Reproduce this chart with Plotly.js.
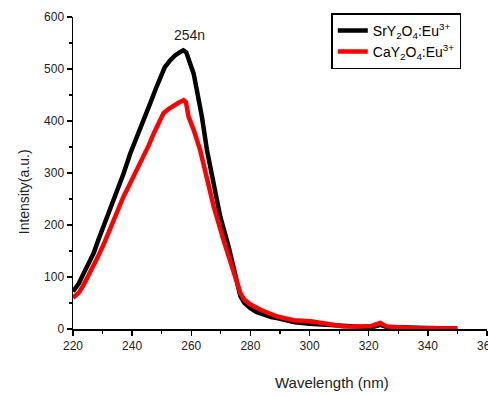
<!DOCTYPE html>
<html>
<head>
<meta charset="utf-8">
<script src="https://cdn.plot.ly/plotly-3.0.1.min.js"></script>
<style>html,body{margin:0;padding:0;background:#fff;}#chart{width:488px;height:395px;}</style>
</head>
<body>
<div id="chart"></div>
<script>
const srWavelength = [220, 222, 223.6, 225, 227, 228.5, 230.3, 232, 233.7, 235.5, 237.1, 239.4, 241, 242.8, 244.5, 246.1, 248, 249.5, 251, 252.9, 254.5, 256.3, 257.3, 258.3, 259.5, 260.8, 261.9, 263.6, 265.3, 267.6, 269.8, 272.6, 274.9, 276.6, 278, 280, 282, 284.5, 287, 289, 292, 295, 300, 306, 312, 318, 322, 324, 326, 330, 340, 350];
const srIntensity = [72, 88, 107, 122, 146, 170, 197, 222, 248, 273, 299, 338, 360, 383, 410, 434, 462, 485, 503, 517, 526, 533, 536, 532, 512, 491, 459, 408, 344, 280, 216, 159, 107, 63, 50, 40, 33, 27, 23, 21, 16, 13, 10, 8, 5, 4, 5, 8, 4, 3, 2, 1];
const caWavelength = [220, 222, 223.6, 225, 227, 228.5, 230.3, 232, 233.7, 235.5, 237.1, 238.8, 240.5, 242.2, 243.9, 245.6, 247.3, 249, 250.6, 252.3, 254, 255.7, 257.4, 258.2, 259.1, 260.8, 263, 265.3, 267.6, 270.9, 274.3, 276.6, 278, 280, 283.4, 286, 289, 294.6, 300.2, 305.8, 311.5, 317.1, 320.9, 323.9, 326, 334, 342, 349.8];
const caIntensity = [60, 70, 85, 100, 120, 140, 162, 186, 210, 233, 255, 274, 293, 312, 331, 353, 376, 396, 415, 423, 430, 435, 440, 436, 408, 383, 344, 287, 235, 171, 114, 69, 56, 47, 37, 30, 24, 17, 15, 10, 5, 5, 6, 11.5, 5, 2, 2, 1];
const seriesNames = ["SrY<sub>2</sub>O<sub>4</sub>:Eu<sup>3+</sup>", "CaY<sub>2</sub>O<sub>4</sub>:Eu<sup>3+</sup>"];
const xTicks = [220, 240, 260, 280, 300, 320, 340, 360];
const yTicks = [0, 100, 200, 300, 400, 500, 600];
const peakLabel = "254n";

const traces = [
  {x: srWavelength, y: srIntensity, name: seriesNames[0], mode: "lines", line: {color: "#000000", width: 4.5}},
  {x: caWavelength, y: caIntensity, name: seriesNames[1], mode: "lines", line: {color: "#ff0000", width: 4.5}}
];
const W = 488, H = 395;
const L = 72.7, R = 1.3, T = 16.7, B = 65.7;
const layout = {
  width: W, height: H,
  margin: {l: L, r: R, t: T, b: B, pad: 0},
  paper_bgcolor: "#ffffff", plot_bgcolor: "#ffffff",
  font: {family: "Liberation Sans, Arial, sans-serif", color: "#222", size: 12},
  showlegend: true,
  legend: {
    x: (331 - L) / (W - L - R), y: (H - B - 13) / (H - T - B), xanchor: "left", yanchor: "top",
    bordercolor: "#000", borderwidth: 1.5, bgcolor: "#fff",
    font: {size: 14, color: "#000"}, itemwidth: 30, tracegroupgap: 0
  },
  xaxis: {
    range: [220, 360], tickvals: xTicks, ticktext: xTicks.map(String),
    showgrid: false, zeroline: false, showline: true, linecolor: "#000", linewidth: 1.5,
    ticks: "outside", ticklen: 5, tickwidth: 1.5, tickcolor: "#000",
    tickfont: {size: 12, color: "#222"}, ticklabeloverflow: "allow",
    minor: {dtick: 10, tick0: 220, ticks: "outside", ticklen: 3, tickwidth: 1.2, tickcolor: "#000", showgrid: false}
  },
  yaxis: {
    range: [0, 600], tickvals: yTicks, ticktext: yTicks.map(String),
    showgrid: false, zeroline: false, showline: true, linecolor: "#000", linewidth: 1.5,
    ticks: "outside", ticklen: 5, tickwidth: 1.5, tickcolor: "#000",
    tickfont: {size: 12, color: "#222"},
    minor: {dtick: 50, tick0: 0, ticks: "outside", ticklen: 3, tickwidth: 1.2, tickcolor: "#000", showgrid: false}
  },
  annotations: [
    {text: peakLabel, x: 259.3, y: 565, xref: "x", yref: "y", showarrow: false, font: {size: 14, color: "#222"}},
    {text: "Wavelength (nm)", x: (332 - L) / (W - L - R), y: -(383 - (H - B)) / (H - T - B), xref: "paper", yref: "paper", showarrow: false, font: {size: 15, color: "#222"}, yanchor: "middle"},
    {text: "Intensity(a.u.)", x: (14 - L) / (W - L - R), y: (H - B - 192) / (H - T - B), xref: "paper", yref: "paper", showarrow: false, textangle: -90, font: {size: 14, color: "#222"}}
  ]
};
Plotly.newPlot("chart", traces, layout, {displayModeBar: false, staticPlot: true});
</script>
</body>
</html>
